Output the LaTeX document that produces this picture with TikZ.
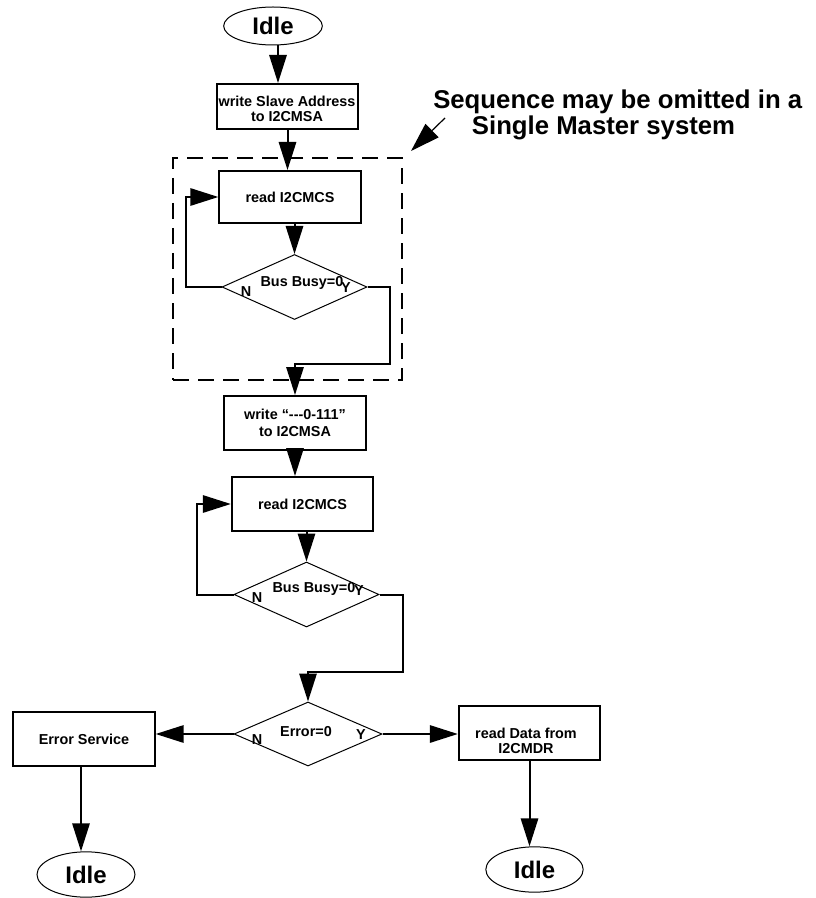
\documentclass[tikz,border=0pt]{standalone}
\usepackage{fontspec}
\setmainfont{Liberation Sans}
\usepackage{tikz}
\usetikzlibrary{shapes.geometric,arrows.meta,positioning,calc}

\tikzset{
  procbox/.style={draw, line width=1.5pt, minimum width=106pt, minimum height=40.5pt,
                  inner sep=1pt, align=center, font=\fontsize{10.8}{11}\selectfont\bfseries},
  decision/.style={draw, diamond, line width=0.75pt, minimum width=108.75pt,
                   minimum height=48.75pt, inner sep=0pt},
  terminal/.style={draw, ellipse, line width=0.75pt, minimum width=74pt, minimum height=34pt,
                   inner sep=0pt, font=\fontsize{18}{20}\selectfont\bfseries},
  lbl/.style={inner sep=0pt, align=center, font=\fontsize{10.8}{11}\selectfont\bfseries},
  flow/.style={-{Triangle[length=21pt,width=13pt]}, line width=1.5pt},
  seqframe/.style={draw, line width=1.5pt, dash pattern=on 12pt off 6.75pt,
                   minimum width=171.75pt, minimum height=166.5pt, inner sep=0pt}
}

\begin{document}
\begin{tikzpicture}[x=0.75pt, y=-0.75pt]
  \useasboundingbox (0,0) rectangle (816,898);

  % optional part for multi master
  \node[seqframe] (seq) at (287.5,269) {};
  \node[anchor=west, inner sep=0pt, align=left,
        font=\fontsize{19.3}{19.5}\selectfont\bfseries] (note) at (433,115)
        {Sequence may be omitted in a\\\hspace*{29pt}Single Master system};
  \coordinate (notetail) at (445,118);
  \draw[-{Triangle[length=22pt,width=14pt]}, line width=0.9pt]
        (notetail) -- ([shift={(6pt,4.5pt)}]seq.north east);

  % start
  \node[terminal, minimum height=28.5pt] (idle1) at (273,26) {Idle};
  \node[procbox, minimum height=33.75pt] (wsa) at (287.5,106.5) {};
  \node[lbl, font=\fontsize{10.8}{11.25}\selectfont\bfseries] (wsatxt) at (287,109)
        {write Slave Address\\to I2CMSA};
  \node[procbox, minimum height=39pt] (rcs1) at (290,197) {read I2CMCS};
  \node[decision] (busy1) at (294.5,287) {};
  \node[lbl] (q1) at (302,283) {Bus Busy=0};
  \node[lbl] (n1) at (246,292) {N};
  \node[lbl] (y1) at (346,288) {Y};

  \draw[flow] ([xshift=3.75pt]idle1.south) -- ([xshift=3.75pt]idle1.south |- wsa.north);
  \draw[flow] (wsa.south) -- (wsa.south |- rcs1.north);
  \draw[flow] (busy1.north |- rcs1.south) -- (busy1.north);
  \draw[flow] (busy1.west) -- ++(-36,0) |- (rcs1.west);

  % receive
  \node[procbox, font=\fontsize{10.8}{12.5}\selectfont\bfseries] (wcmd) at (295,423)
        {write “-\kern0pt-\kern0pt-0-111”\\to I2CMSA};
  \node[procbox] (rcs2) at (302.5,504) {read I2CMCS};
  \node[decision] (busy2) at (306.5,594.5) {};
  \node[lbl] (q2) at (314,589) {Bus Busy=0};
  \node[lbl] (n2) at (257,598) {N};
  \node[lbl] (y2) at (359,591) {Y};

  \draw[flow] (busy1.east) -- ++(22,0) |- ([yshift=23.25pt]wcmd.north) -- (wcmd.north);
  \draw[flow] (wcmd.south) -- (wcmd.south |- rcs2.north);
  \draw[flow] (busy2.north |- rcs2.south) -- (busy2.north);
  \draw[flow] (busy2.west) -- ++(-37,0) |- (rcs2.west);

  % error check
  \node[decision, minimum width=111pt, minimum height=48pt] (err) at (308,734) {};
  \node[lbl] (q3) at (306,732) {Error=0};
  \node[lbl] (n3) at (257,740) {N};
  \node[lbl] (y3) at (361,735) {Y};
  \node[procbox] (errsrv) at (84,739) {Error Service};
  \node[procbox] (rdata) at (529.5,733) {};
  \node[lbl, font=\fontsize{10.8}{11.5}\selectfont\bfseries] (rdtxt) at (526,741)
        {read Data from\\I2CMDR};
  \node[terminal, minimum width=73.5pt] (idle2) at (86,874.5) {Idle};
  \node[terminal, minimum width=73pt] (idle3) at (534.5,869.5) {Idle};

  \draw[flow] (busy2.east) -- ++(23,0) |- ([yshift=22.5pt]err.north) -- (err.north);
  \draw[flow] (err.west) -- (err.west -| errsrv.east);
  \draw[flow] (err.east) -- (err.east -| rdata.west);
  \draw[flow] ([xshift=-2.25pt]errsrv.south) -- ([xshift=-2.25pt]errsrv.south |- idle2.north);
  \draw[flow] (rdata.south) -- (rdata.south |- idle3.north);
\end{tikzpicture}
\end{document}
